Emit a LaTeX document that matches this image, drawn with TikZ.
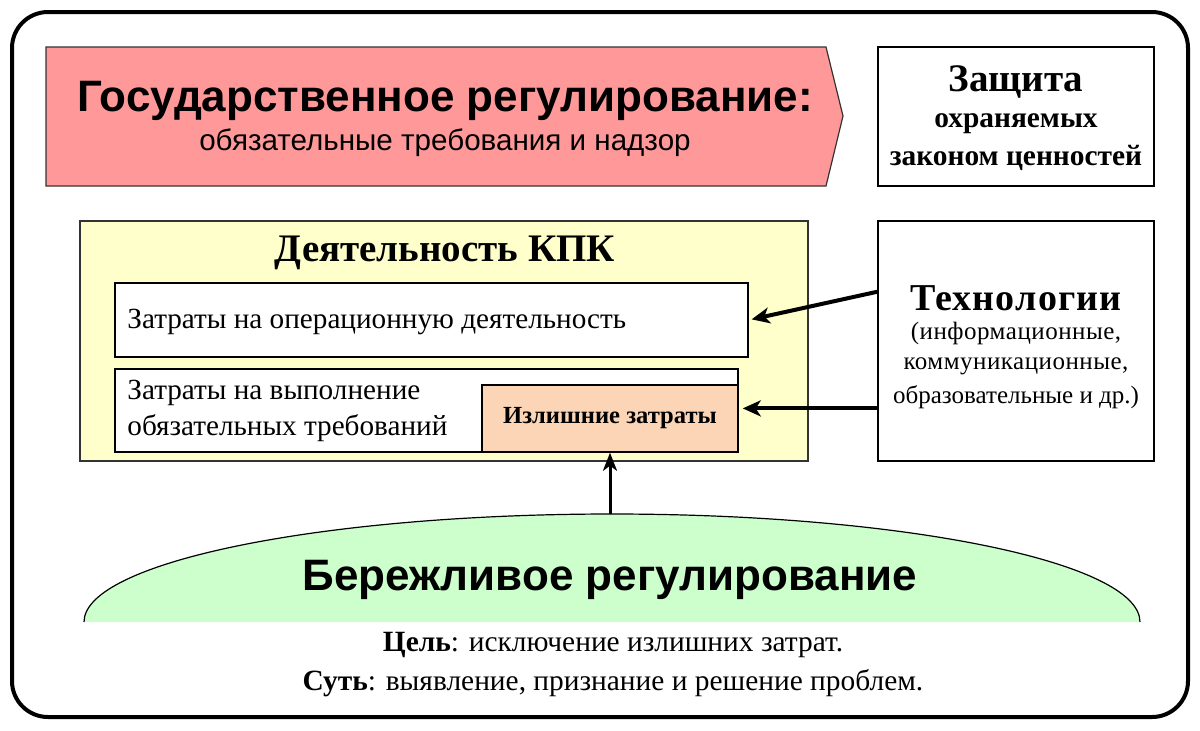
\documentclass[tikz,border=0pt]{standalone}
\usepackage{fontspec}
\setmainfont{Liberation Serif}
\setsansfont{Liberation Sans}
\usetikzlibrary{arrows.meta,calc}
\definecolor{pinkfill}{HTML}{FF9999}
\definecolor{yellowfill}{HTML}{FFFFCC}
\definecolor{peachfill}{HTML}{FBD5B5}
\definecolor{greenfill}{HTML}{CCFFCC}
\definecolor{darkborder}{HTML}{333333}
\newcommand{\fs}[1]{\fontsize{#1}{1.2\dimexpr #1pt\relax}\selectfont}
\tikzset{
  box/.style={draw=black, line width=0.75pt, fill=white, inner sep=0pt},
  txt/.style={inner sep=0pt, align=center},
  bigarrow/.style={line width=2pt, -{Stealth[length=9pt,width=8pt,inset=2.5pt]}},
  uparrow/.style={line width=1.5pt, -{Stealth[length=9pt,width=7pt,inset=2.5pt]}}
}
\begin{document}
\begin{tikzpicture}[x=0.5pt,y=-0.5pt]
\useasboundingbox (0,0) rectangle (1200,730);
% outer frame
\draw[line width=2pt, rounded corners=18pt] (12,12) rectangle (1188,717);
% pink pentagon
\draw[fill=pinkfill, draw=darkborder, line width=0.6pt] (46,47) -- (826,47) -- (843,116) -- (826,186) -- (46,186) -- cycle;
\node[txt, font=\sffamily\bfseries\fs{22}] (gov) at (445,101) {Государственное регулирование:};
\node[txt, font=\sffamily\fs{14.8}] (govsub) at (445,143) {обязательные требования и надзор};
% protection box
\node[box, minimum width=138pt, minimum height=69.5pt] (prot) at (1016,116.5) {};
\node[txt, font=\bfseries\fs{19.5}] (prot1) at (1016,82) {Защита};
\node[txt, font=\bfseries\fs{14.7}] (prot2) at (1016,124) {охраняемых};
\node[txt, font=\bfseries\fs{14.7}] (prot3) at (1016,158) {законом ценностей};
% activity box
\node[draw=darkborder, line width=0.75pt, fill=yellowfill, minimum width=364pt, minimum height=120pt, inner sep=0pt] (act) at (444,341) {};
\node[txt, font=\bfseries\fs{19.5}] (acttitle) at (445,253) {Деятельность КПК};
\node[box, minimum width=316.5pt, minimum height=37pt] (op) at (431.5,320) {};
\node[txt, anchor=west, font=\fs{14.6}] (optext) at (127,322) {Затраты на операционную деятельность};
\node[box, minimum width=311.5pt, minimum height=41.5pt] (req) at (426.5,410.5) {};
\node[txt, anchor=west, align=left, font=\fs{14.6}] (reqtext1) at (127,393) {Затраты на выполнение};
\node[txt, anchor=west, align=left, font=\fs{14.6}] (reqtext2) at (127,428) {обязательных требований};
\node[draw=black, line width=0.75pt, fill=peachfill, minimum width=128pt, minimum height=33.5pt, inner sep=0pt, font=\bfseries\fs{12.3}] (extra) at (610,418.5) {Излишние затраты};
% technology box
\node[box, minimum width=138pt, minimum height=120pt] (tech) at (1016,341) {};
\node[txt, font=\bfseries\fs{19}\addfontfeatures{LetterSpace=3}] (tech1) at (1016,298) {Технологии};
\node[txt, font=\fs{12.5}\addfontfeatures{LetterSpace=2}] (tech2) at (1016,333) {(информационные,};
\node[txt, font=\fs{12.5}\addfontfeatures{LetterSpace=2}] (tech3) at (1016,366) {коммуникационные,};
\node[txt, font=\fs{12.5}] (tech4) at (1016,397) {образовательные и др.)};
% arrows from technologies
\coordinate (ta) at ($(tech.north west)!0.296!(tech.south west)$);
\coordinate (tb) at ($(tech.north west)!0.779!(tech.south west)$);
\draw[bigarrow, shorten >=1.5pt] (ta) -- (op.east);
\draw[bigarrow, shorten >=2pt] (tb) -- (tb -| extra.east);
% lean regulation
\fill[greenfill] (84,622) arc[start angle=180, end angle=360, x radius=528, y radius=108] -- cycle;
\draw[line width=0.6pt] (84,622) arc[start angle=180, end angle=360, x radius=528, y radius=108];
\coordinate (lean) at (610,514);
\node[txt, font=\sffamily\bfseries\fs{22}] (leantitle) at (610,580) {Бережливое регулирование};
\draw[uparrow] (lean) -- (extra.south);
\node[txt, font=\fs{14.7}] (goal) at (613,645) {\textbf{Цель}: исключение излишних затрат.};
\node[txt, font=\fs{14.7}] (essence) at (613,683) {\textbf{Суть}: выявление, признание и решение проблем.};
\end{tikzpicture}
\end{document}
